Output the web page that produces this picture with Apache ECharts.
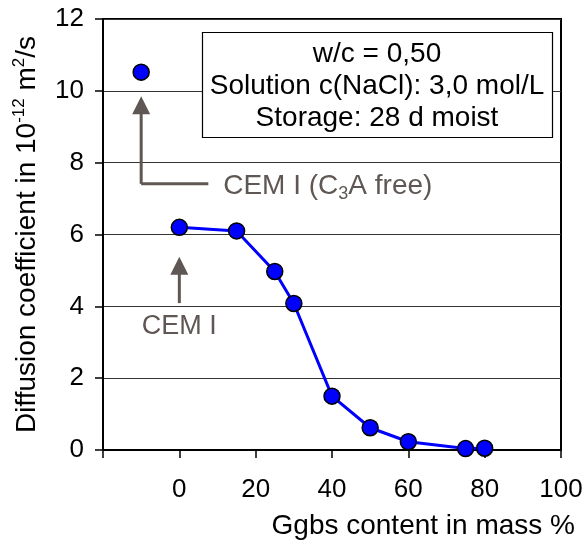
<!DOCTYPE html>
<html>
<head>
<meta charset="utf-8">
<script src="https://cdn.jsdelivr.net/npm/echarts@6/dist/echarts.min.js"></script>
<style>
  html, body { margin: 0; padding: 0; background: #fff; }
  #chart { width: 586px; height: 543px; }
</style>
</head>
<body>
<div id="chart"></div>
<script>
// ggbs content (mass %) vs. chloride diffusion coefficient (10^-12 m2/s)
const ggbs = [0, 15, 25, 30, 40, 50, 60, 75, 80];
const diffusion = [6.2, 6.1, 4.97, 4.08, 1.5, 0.62, 0.23, 0.04, 0.05];
// CEM I (C3A free) plotted apart at x = -10
const c3aFreeX = [-10];
const c3aFreeY = [10.52];

const xTicks = [-20, 0, 20, 40, 60, 80, 100];
const yTicks = [0, 2, 4, 6, 8, 10, 12];
const infoLines = ['w/c = 0,50', 'Solution c(NaCl): 3,0 mol/L', 'Storage: 28 d moist'];

const FONT = '"Liberation Sans", Arial, sans-serif';
const ANN = '#5f5753';

const chart = echarts.init(document.getElementById('chart'), null, { renderer: 'canvas' });

const option = {
  animation: false,
  grid: {
    left: 103, right: 25, top: 19, bottom: 93,
    show: true, borderColor: '#000', borderWidth: 2, backgroundColor: 'transparent'
  },
  xAxis: {
    type: 'value',
    min: xTicks[0], max: xTicks[xTicks.length - 1], interval: 20,
    name: 'Ggbs content in mass %',
    nameLocation: 'end',
    nameGap: 0,
    nameTextStyle: { fontFamily: FONT, fontSize: 28, color: '#000', align: 'right', verticalAlign: 'top', padding: [62, -14, 0, 0] },
    axisLine: { onZero: false, lineStyle: { color: '#000', width: 2 } },
    axisTick: { show: true, inside: false, length: 8, lineStyle: { color: '#000', width: 1.5 } },
    axisLabel: {
      fontFamily: FONT, fontSize: 26, color: '#000', margin: 27,
      formatter: v => (v < 0 ? '' : String(v))
    },
    splitLine: { show: false }
  },
  yAxis: {
    type: 'value',
    min: yTicks[0], max: yTicks[yTicks.length - 1], interval: 2,
    name: 'Diffusion coefficient in 10{sup|-12} m{sup|2}/s',
    nameLocation: 'middle',
    nameGap: 60,
    nameRotate: 90,
    nameTextStyle: {
      fontFamily: FONT, fontSize: 28, color: '#000', lineHeight: 32,
      rich: {
        sup: { fontFamily: FONT, fontSize: 17, color: '#000', verticalAlign: 'top', lineHeight: 32, padding: [0, 0, 12, 0] }
      }
    },
    axisLine: { show: true, onZero: false, lineStyle: { color: '#000', width: 2 } },
    axisTick: { show: true, inside: false, length: 8, lineStyle: { color: '#000', width: 1.5 } },
    axisLabel: { fontFamily: FONT, fontSize: 26, color: '#000', margin: 19 },
    splitLine: { show: true, lineStyle: { color: '#333', width: 1 } }
  },
  series: [
    {
      name: 'ggbs',
      type: 'line',
      data: ggbs.map((x, i) => [x, diffusion[i]]),
      symbol: 'circle',
      symbolSize: 16,
      lineStyle: { color: '#0000ff', width: 3 },
      itemStyle: { color: '#0000ff', borderColor: '#000', borderWidth: 1.5, opacity: 1 },
      z: 5
    },
    {
      name: 'c3aFree',
      type: 'scatter',
      data: c3aFreeX.map((x, i) => [x, c3aFreeY[i]]),
      symbol: 'circle',
      symbolSize: 16,
      itemStyle: { color: '#0000ff', borderColor: '#000', borderWidth: 1.5, opacity: 1 },
      z: 5
    }
  ]
};

chart.setOption(option);

// annotation anchors in data coordinates
const px = (x, y) => chart.convertToPixel({ gridIndex: 0 }, [x, y]);

function arrowUp(base, tipY) {
  const tip = [base[0], tipY];
  return [
    { type: 'polyline', shape: { points: [base, [tip[0], tip[1] + 16]] }, style: { stroke: ANN, lineWidth: 3, fill: null }, z: 20 },
    { type: 'polygon', shape: { points: [tip, [tip[0] - 9, tip[1] + 18], [tip[0] + 9, tip[1] + 18]] }, style: { fill: ANN }, z: 20 }
  ];
}

const graphics = [];

// CEM I (C3A free): elbow arrow
const c3aCorner = px(-10, 7.41);
const c3aEnd = px(7.6, 7.41);
const c3aTip = px(-10, 9.85);
graphics.push({ type: 'polyline', shape: { points: [c3aEnd, c3aCorner] }, style: { stroke: ANN, lineWidth: 3, fill: null }, z: 20 });
graphics.push(...arrowUp(c3aCorner, c3aTip[1]));
const c3aText = px(11.5, 7.33);
graphics.push({
  type: 'text', x: c3aText[0], y: c3aText[1], z: 20,
  style: {
    text: 'CEM I (C{sub|3}A free)',
    font: '28px ' + FONT, fill: ANN, verticalAlign: 'middle', align: 'left', lineHeight: 32,
    rich: { sub: { fontFamily: FONT, fontSize: 18, fill: ANN, verticalAlign: 'bottom', lineHeight: 32, padding: [12, 0, 0, 0] } }
  }
});

// CEM I arrow
const cemBase = px(0, 4.09);
const cemTip = px(0, 5.38);
graphics.push(...arrowUp(cemBase, cemTip[1]));
const cemText = px(0, 3.45);
graphics.push({
  type: 'text', x: cemText[0], y: cemText[1], z: 20,
  style: { text: 'CEM I', font: '27px ' + FONT, fill: ANN, align: 'center', verticalAlign: 'middle' }
});

// info box
graphics.push({
  type: 'rect', z: 15,
  shape: { x: 202.5, y: 32.5, width: 350, height: 105 },
  style: { fill: '#fff', stroke: '#000', lineWidth: 1.2 }
});
infoLines.forEach((t, i) => {
  graphics.push({
    type: 'text', x: 377, y: 54 + i * 32, z: 16,
    style: { text: t, font: '28px ' + FONT, fill: '#000', align: 'center', verticalAlign: 'middle' }
  });
});

chart.setOption({ graphic: graphics });
</script>
</body>
</html>
